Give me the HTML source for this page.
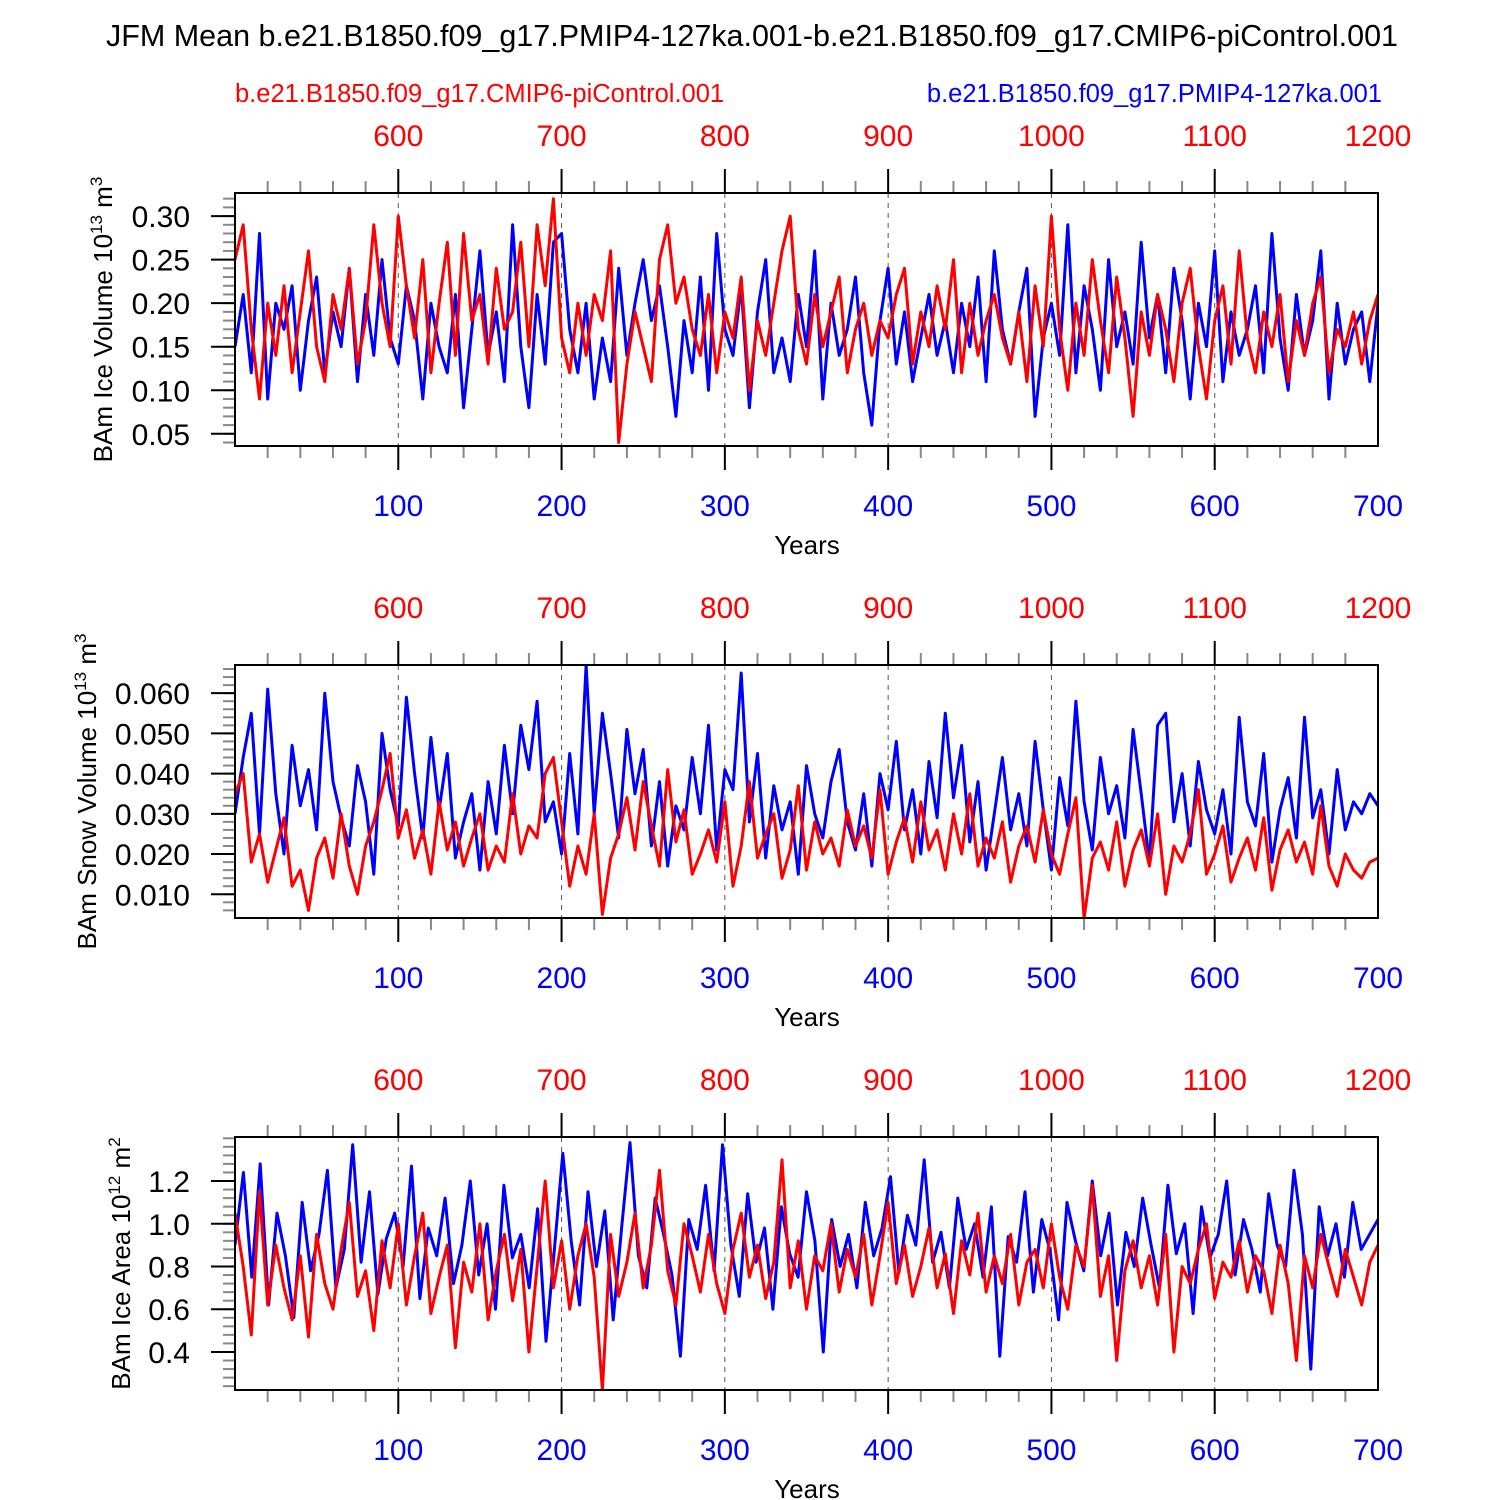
<!DOCTYPE html>
<html><head><meta charset="utf-8"><style>
html,body{margin:0;padding:0;background:#fff;}
svg{display:block;font-family:"Liberation Sans",Arial,sans-serif;}
</style></head><body>
<svg id="chart" width="1500" height="1500" viewBox="0 0 1500 1500" xmlns="http://www.w3.org/2000/svg">
<text x="752" y="46" font-size="30.5" text-anchor="middle">JFM Mean b.e21.B1850.f09_g17.PMIP4-127ka.001-b.e21.B1850.f09_g17.CMIP6-piControl.001</text>
<text x="235" y="102" font-size="25.5" fill="#ff0000">b.e21.B1850.f09_g17.CMIP6-piControl.001</text>
<text x="1382" y="102" font-size="25.5" fill="#0000ff" text-anchor="end">b.e21.B1850.f09_g17.PMIP4-127ka.001</text>
</svg>
<script>
const blueIce=[0.15,0.21,0.12,0.28,0.09,0.20,0.17,0.22,0.10,0.18,0.23,0.12,0.19,0.15,0.24,0.11,0.21,0.14,0.25,0.16,0.13,0.22,0.18,0.09,0.20,0.15,0.12,0.21,0.08,0.17,0.26,0.14,0.19,0.11,0.29,0.15,0.08,0.21,0.13,0.27,0.28,0.17,0.12,0.20,0.09,0.16,0.11,0.24,0.14,0.20,0.25,0.18,0.22,0.15,0.07,0.18,0.12,0.23,0.10,0.28,0.17,0.14,0.22,0.08,0.19,0.25,0.12,0.16,0.11,0.21,0.15,0.26,0.09,0.20,0.14,0.17,0.23,0.12,0.06,0.18,0.24,0.13,0.19,0.11,0.16,0.21,0.14,0.18,0.12,0.20,0.15,0.23,0.11,0.26,0.17,0.13,0.19,0.24,0.07,0.16,0.20,0.14,0.29,0.12,0.22,0.17,0.10,0.25,0.15,0.19,0.13,0.27,0.16,0.21,0.12,0.24,0.18,0.09,0.20,0.15,0.26,0.11,0.19,0.14,0.17,0.22,0.12,0.28,0.16,0.10,0.21,0.14,0.18,0.26,0.09,0.20,0.13,0.17,0.19,0.11,0.20];
const redIce=[0.25,0.29,0.17,0.09,0.20,0.14,0.22,0.12,0.19,0.26,0.15,0.11,0.21,0.17,0.24,0.13,0.18,0.29,0.20,0.15,0.30,0.22,0.16,0.25,0.12,0.20,0.27,0.14,0.28,0.18,0.21,0.13,0.24,0.17,0.19,0.27,0.15,0.29,0.22,0.32,0.16,0.12,0.20,0.14,0.21,0.18,0.26,0.04,0.13,0.19,0.15,0.11,0.25,0.29,0.20,0.23,0.17,0.14,0.21,0.12,0.19,0.16,0.23,0.10,0.18,0.14,0.20,0.26,0.30,0.17,0.13,0.21,0.15,0.19,0.23,0.12,0.17,0.20,0.14,0.18,0.16,0.21,0.24,0.13,0.19,0.15,0.22,0.17,0.25,0.12,0.20,0.14,0.18,0.21,0.16,0.13,0.19,0.11,0.22,0.15,0.30,0.17,0.10,0.20,0.14,0.25,0.18,0.12,0.23,0.16,0.07,0.19,0.14,0.21,0.17,0.11,0.20,0.24,0.15,0.09,0.18,0.22,0.13,0.26,0.16,0.12,0.19,0.15,0.21,0.11,0.18,0.14,0.20,0.23,0.12,0.17,0.15,0.19,0.13,0.18,0.21];
const blueSnow=[0.030,0.044,0.055,0.025,0.061,0.035,0.020,0.047,0.032,0.041,0.026,0.060,0.038,0.029,0.022,0.042,0.033,0.015,0.050,0.036,0.027,0.059,0.040,0.024,0.049,0.031,0.045,0.019,0.028,0.035,0.016,0.038,0.025,0.047,0.030,0.052,0.041,0.058,0.028,0.033,0.020,0.045,0.025,0.067,0.030,0.055,0.040,0.024,0.051,0.035,0.046,0.022,0.038,0.017,0.032,0.026,0.044,0.030,0.052,0.021,0.041,0.036,0.065,0.028,0.045,0.019,0.037,0.026,0.033,0.015,0.042,0.030,0.024,0.038,0.046,0.028,0.021,0.035,0.017,0.040,0.031,0.048,0.026,0.036,0.020,0.043,0.029,0.055,0.034,0.047,0.023,0.038,0.016,0.030,0.044,0.026,0.035,0.022,0.048,0.031,0.016,0.039,0.027,0.058,0.033,0.021,0.044,0.030,0.037,0.024,0.051,0.035,0.018,0.052,0.055,0.028,0.040,0.022,0.043,0.031,0.025,0.036,0.020,0.054,0.033,0.027,0.045,0.018,0.031,0.039,0.024,0.054,0.029,0.036,0.020,0.041,0.026,0.033,0.030,0.035,0.032];
const redSnow=[0.035,0.040,0.018,0.025,0.013,0.021,0.029,0.012,0.016,0.006,0.019,0.024,0.014,0.030,0.017,0.010,0.022,0.028,0.036,0.045,0.024,0.031,0.019,0.026,0.015,0.033,0.021,0.028,0.017,0.024,0.030,0.016,0.022,0.018,0.035,0.020,0.027,0.024,0.040,0.044,0.028,0.012,0.022,0.015,0.030,0.005,0.019,0.025,0.034,0.021,0.038,0.027,0.017,0.041,0.023,0.031,0.015,0.020,0.026,0.018,0.033,0.012,0.022,0.038,0.019,0.025,0.030,0.014,0.021,0.037,0.016,0.028,0.020,0.024,0.017,0.031,0.022,0.027,0.019,0.036,0.015,0.023,0.029,0.018,0.033,0.021,0.026,0.016,0.030,0.020,0.035,0.017,0.024,0.019,0.028,0.013,0.022,0.027,0.018,0.031,0.020,0.015,0.025,0.034,0.004,0.019,0.023,0.016,0.028,0.012,0.021,0.026,0.017,0.030,0.010,0.022,0.018,0.025,0.036,0.015,0.020,0.027,0.013,0.019,0.024,0.016,0.029,0.011,0.021,0.026,0.018,0.023,0.015,0.032,0.017,0.012,0.020,0.016,0.014,0.018,0.019];
const blueArea=[0.90,1.24,0.75,1.28,0.62,1.05,0.85,0.56,1.10,0.78,0.95,1.25,0.70,0.88,1.37,0.82,1.15,0.67,0.93,1.05,0.80,1.27,0.65,0.98,0.85,1.12,0.72,0.90,1.20,0.76,1.00,0.60,1.18,0.84,0.95,0.70,1.07,0.45,0.88,1.33,0.92,0.62,1.15,0.80,1.06,0.55,0.98,1.38,0.85,0.70,1.12,0.95,0.76,0.38,1.02,0.88,1.18,0.78,1.37,0.90,0.66,1.14,0.82,0.98,0.60,1.08,0.86,0.75,1.15,0.92,0.40,1.02,0.80,0.95,0.70,1.10,0.85,0.98,1.22,0.77,1.04,0.90,1.30,0.82,0.96,0.70,1.12,0.88,1.00,0.75,1.08,0.38,0.94,0.82,1.15,0.68,1.02,0.87,0.55,1.10,0.92,0.78,1.20,0.85,1.05,0.62,0.96,0.80,1.12,0.90,0.70,1.18,0.86,1.00,0.58,1.08,0.84,0.95,1.20,0.76,1.02,0.88,0.68,1.14,0.90,0.80,1.25,0.95,0.32,1.08,0.85,1.00,0.75,1.10,0.88,0.95,1.02];
const redArea=[1.05,0.80,0.48,1.15,0.62,0.90,0.70,0.55,0.85,0.47,0.95,0.72,0.60,0.88,1.10,0.66,0.78,0.50,0.92,0.70,1.00,0.62,0.85,1.05,0.58,0.75,0.90,0.42,0.82,0.68,1.00,0.55,0.78,0.95,0.64,0.88,0.40,0.80,1.20,0.70,0.92,0.60,0.85,1.00,0.75,0.22,0.95,0.66,0.82,1.05,0.70,0.90,1.25,0.78,0.62,1.00,0.85,0.68,0.95,0.72,0.58,0.88,1.05,0.75,0.90,0.65,0.82,1.30,0.70,0.92,0.60,0.85,0.78,1.00,0.68,0.88,0.75,0.95,0.62,0.85,1.10,0.72,0.90,0.66,0.80,0.98,0.70,0.86,0.58,0.92,0.76,1.05,0.68,0.85,0.72,0.95,0.62,0.82,0.88,0.70,1.00,0.75,0.60,0.90,0.80,1.18,0.66,0.85,0.36,0.78,0.92,0.70,0.85,0.62,0.95,0.40,0.80,0.72,0.88,1.00,0.65,0.82,0.75,0.92,0.68,0.85,0.78,0.58,0.90,0.72,0.36,0.85,0.70,0.95,0.80,0.66,0.88,0.75,0.62,0.82,0.90];
const bottomTicks=[100,200,300,400,500,600,700];
const topTickLabels=["600","700","800","900","1000","1100","1200"];
const iceTicks=[0.05,0.10,0.15,0.20,0.25,0.30];
const snowTicks=[0.010,0.020,0.030,0.040,0.050,0.060];
const areaTicks=[0.4,0.6,0.8,1.0,1.2];

const NS="http://www.w3.org/2000/svg";
const svg=document.getElementById('chart');
function mk(tag,attrs,parent){const e=document.createElementNS(NS,tag);for(const k in attrs)e.setAttribute(k,attrs[k]);(parent||svg).appendChild(e);return e;}
const X0=235,X1=1378;
const xs=v=>X0+(v/700)*(X1-X0);

const panels=[
 {top:193,ymin:0.036,ymax:0.3265,ticks:iceTicks,minorStep:0.01,dec:2,blue:blueIce,red:redIce,name:'ice-volume',title:'BAm Ice Volume 10',sup:'13',unit:' m',usup:'3',tx:112},
 {top:665,ymin:0.0041,ymax:0.067,ticks:snowTicks,minorStep:0.002,dec:3,blue:blueSnow,red:redSnow,name:'snow-volume',title:'BAm Snow Volume 10',sup:'13',unit:' m',usup:'3',tx:96},
 {top:1137,ymin:0.222,ymax:1.406,ticks:areaTicks,minorStep:0.04,dec:1,blue:blueArea,red:redArea,name:'ice-area',title:'BAm Ice Area 10',sup:'12',unit:' m',usup:'2',tx:130}
];
panels.forEach(p=>{
 const T=p.top,B=T+253;
 const ys=v=>B-(v-p.ymin)/(p.ymax-p.ymin)*(B-T);
 const g=mk('g',{});
 
 
 bottomTicks.slice(0,6).forEach(t=>{const l=mk('line',{x1:xs(t),x2:xs(t),y1:T,y2:B,stroke:'#555','stroke-width':1,'stroke-dasharray':'5,5'},g);
  
  });
 for(let v=20;v<700;v+=20){
  const major=v%100===0;
  mk('line',{x1:xs(v),x2:xs(v),y1:B,y2:B+(major?24:12),stroke:major?'#000':'#888','stroke-width':2},g);
  mk('line',{x1:xs(v),x2:xs(v),y1:T,y2:T-(major?24:12),stroke:major?'#000':'#888','stroke-width':2},g);
 }
 for(let v=Math.ceil(p.ymin/p.minorStep)*p.minorStep;v<p.ymax;v+=p.minorStep){
  mk('line',{x1:X0-12,x2:X0,y1:ys(v),y2:ys(v),stroke:'#888','stroke-width':2},g);
 }
 p.ticks.forEach(t=>{
  mk('line',{x1:X0-24,x2:X0,y1:ys(t),y2:ys(t),stroke:'#000','stroke-width':2},g);
  const tx=mk('text',{x:X0-45,y:ys(t)+11,'font-size':30,'text-anchor':'end'},g);
  tx.textContent=t.toFixed(p.dec);
  
  
 });
 bottomTicks.forEach((t,i)=>{
  const b=mk('text',{x:xs(t),y:B+70,'font-size':30,'text-anchor':'middle',fill:'#0000ff'},g);
  b.textContent=t;
  
  
  const tt=mk('text',{x:xs(t),y:T-47,'font-size':30,'text-anchor':'middle',fill:'#ff0000'},g);
  tt.textContent=topTickLabels[i];
  
  
 });
 const xt=mk('text',{x:807,y:B+108,'font-size':26,'text-anchor':'middle'},g);
 xt.textContent='Years';
 
 
 const yt=mk('text',{x:0,y:0,'font-size':26,'text-anchor':'middle',transform:`translate(${p.tx},${(T+B)/2}) rotate(-90)`},g);
 yt.innerHTML=`${p.title}<tspan dy="-10" font-size="17">${p.sup}</tspan><tspan dy="10">${p.unit}</tspan><tspan dy="-10" font-size="17">${p.usup}</tspan>`;
 
 
 const clip=mk('clipPath',{id:'clip-'+p.name},g);
 mk('rect',{x:X0,y:T,width:X1-X0,height:B-T},clip);
 [['blue',p.blue,'#0000ff'],['red',p.red,'#ff0000']].forEach(([nm,arr,col])=>{
  const pts=arr.map((v,i)=>xs(i*700/(arr.length-1)).toFixed(1)+','+ys(v).toFixed(1)).join(' ');
  const pl=mk('polyline',{points:pts,fill:'none',stroke:col,'stroke-width':3,'stroke-linejoin':'round','clip-path':`url(#clip-${p.name})`},g);
  
  
 });
 const fr=mk('rect',{x:X0,y:T,width:X1-X0,height:B-T,fill:'none',stroke:'#000','stroke-width':2},g);
 
 
});
</script>
</body></html>
